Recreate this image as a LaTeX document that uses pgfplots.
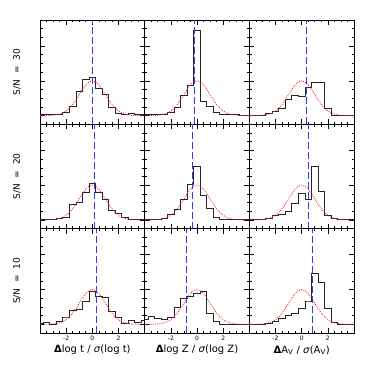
\documentclass[border=0pt]{standalone}
\usepackage{fontspec}
\setmainfont{DejaVu Sans}
\usepackage{pgfplots}
\usepackage{pgfplotstable}
\usepgfplotslibrary{groupplots}
\pgfplotsset{compat=1.18}

% histogram heights per bin centre (bins 0.5 wide); a=log t, b=log Z, c=A_V; 1,2,3 = S/N 30,20,10
\pgfplotstableread{
c     a1   b1   c1   a2   b2   c2   a3   b3   c3
-4.0  0.03 0.03 0.02 0.01 0.01 0.01 0.03 0.15 0.00
-3.5  0.03 0.03 0.02 0.01 0.01 0.01 0.06 0.23 0.00
-3.0  0.03 0.04 0.02 0.02 0.01 0.01 0.01 0.16 0.00
-2.5  0.03 0.04 0.05 0.05 0.05 0.05 0.09 0.15 0.03
-2.0  0.09 0.09 0.12 0.08 0.15 0.12 0.21 0.19 0.08
-1.5  0.26 0.24 0.22 0.46 0.29 0.15 0.40 0.48 0.17
-1.0  0.70 0.57 0.48 0.50 0.60 0.24 0.42 0.75 0.25
-0.5  1.03 0.86 0.58 0.78 1.03 0.48 0.66 0.79 0.32
 0.0  1.10 2.46 0.56 1.04 1.55 0.77 0.95 0.89 0.45
 0.5  0.78 0.41 0.82 0.78 0.70 0.60 0.81 0.94 0.67
 1.0  0.62 0.28 0.97 0.58 0.34 1.55 0.76 0.32 1.47
 1.5  0.23 0.08 0.97 0.27 0.08 0.83 0.38 0.08 1.20
 2.0  0.06 0.04 0.20 0.19 0.01 0.12 0.20 0.01 0.47
 2.5  0.03 0.03 0.02 0.08 0.01 0.05 0.04 0.01 0.06
 3.0  0.07 0.03 0.02 0.01 0.01 0.03 0.10 0.01 0.00
 3.5  0.03 0.02 0.02 0.02 0.01 0.01 0.06 0.01 0.00
 4.0  0.03 0.02 0.02 0.01 0.01 0.01 0.12 0.01 0.00
}\hist

% unit gaussian, peak scaled to 1
\pgfplotstableread{
x     g
-4.00 0.0003
-3.75 0.0009
-3.50 0.0022
-3.25 0.0051
-3.00 0.0111
-2.75 0.0228
-2.50 0.0439
-2.25 0.0796
-2.00 0.1353
-1.75 0.2163
-1.50 0.3247
-1.25 0.4578
-1.00 0.6065
-0.75 0.7548
-0.50 0.8825
-0.25 0.9692
 0.00 1.0000
 0.25 0.9692
 0.50 0.8825
 0.75 0.7548
 1.00 0.6065
 1.25 0.4578
 1.50 0.3247
 1.75 0.2163
 2.00 0.1353
 2.25 0.0796
 2.50 0.0439
 2.75 0.0228
 3.00 0.0111
 3.25 0.0051
 3.50 0.0022
 3.75 0.0009
 4.00 0.0003
}\gauss

\definecolor{PeakBlue}{RGB}{50,60,245}
\definecolor{FitRed}{RGB}{240,30,30}

\pgfplotsset{
  histline/.style={draw=black!85, line width=0.8pt, const plot mark mid, mark=none},
  gaussline/.style={draw=FitRed, smooth, mark=none, line width=0.8pt, dash pattern=on 0.9pt off 1.2pt},
  bestline/.style={draw=PeakBlue, mark=none, line width=1pt, dash pattern=on 7pt off 3pt},
}

\newcommand{\panel}[2]{%
  \addplot[histline] table[x=c,y=#1] {\hist};
  \addplot[gaussline] table[x=x,y=g] {\gauss};
  \addplot[bestline] coordinates {(#2,-0.25) (#2,2.75)};
}

\begin{document}
\begin{tikzpicture}
\begin{groupplot}[
  group style={group size=3 by 3, horizontal sep=0pt, vertical sep=0pt},
  scale only axis, width=104.67pt, height=104.33pt,
  xmin=-4, xmax=4, ymin=-0.25, ymax=2.75,
  xtick={-2,0,2}, minor xtick={-3.5,-3,...,3.5},
  ytick={0,1,2}, minor ytick={0.25,0.5,...,2.5},
  xticklabels={}, yticklabels={},
  major tick length=5pt, minor tick length=2.5pt,
  tick style={black, line width=0.6pt},
  axis line style={line width=0.9pt},
  xticklabel style={font=\fontsize{6}{7}\selectfont, yshift=0pt},
  every axis x label/.style={at={(axis description cs:0.5,-0.165)}, anchor=center, font=\fontsize{10}{11}\selectfont},
  every axis y label/.style={at={(axis description cs:-0.22,0.5)}, rotate=90, anchor=center, font=\fontsize{9}{10}\selectfont},
]
\nextgroupplot[ylabel={S/N ~=~ 30}]
\panel{a1}{0.0}
\nextgroupplot
\panel{b1}{-0.2}
\nextgroupplot
\panel{c1}{0.36}
\nextgroupplot[ylabel={S/N ~=~ 20}]
\panel{a2}{0.14}
\nextgroupplot
\panel{b2}{-0.32}
\nextgroupplot
\panel{c2}{0.5}
\nextgroupplot[ylabel={S/N ~=~ 10}, xticklabels={-2,0,2},
  xlabel={\textbf{Δ}log~t~/~\textit{σ}(log~t)}]
\panel{a3}{0.3}
\nextgroupplot[xticklabels={-2,0,2},
  xlabel={\textbf{Δ}log~Z~/~\textit{σ}(log~Z)}]
\panel{b3}{-0.8}
\nextgroupplot[xticklabels={-2,0,2},
  xlabel={\textbf{Δ}A\textsubscript{V}~/~\textit{σ}(A\textsubscript{V})}]
\panel{c3}{0.8}
\end{groupplot}
\pgfresetboundingbox
\path[use as bounding box] ([shift={(-40pt,20pt)}]group c1r1.north west) rectangle ([shift={(20pt,-41pt)}]group c3r3.south east);
\end{tikzpicture}
\end{document}
